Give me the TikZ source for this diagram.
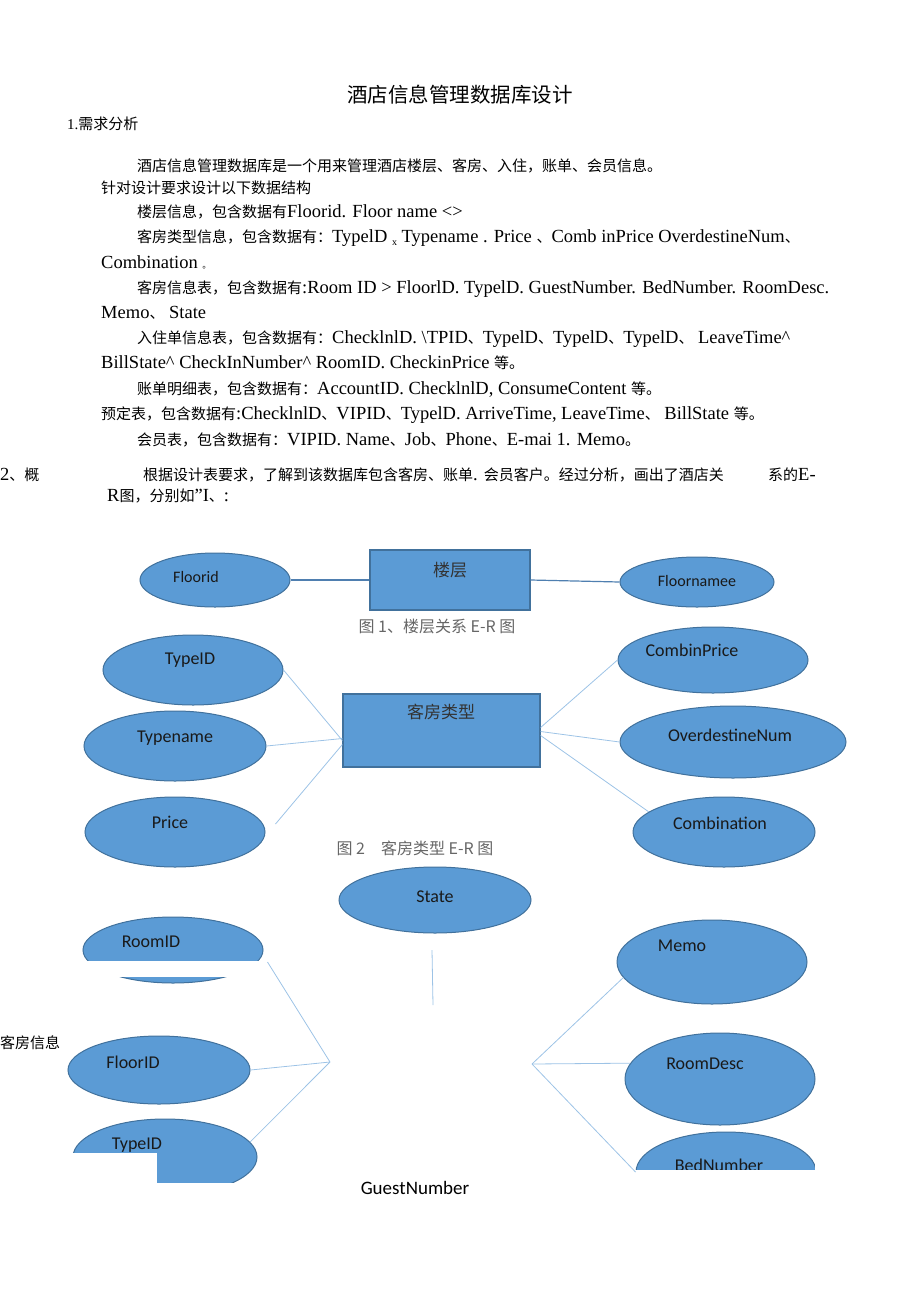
\documentclass[tikz,border=0pt]{standalone}
\usepackage{fontspec}
\setmainfont{Liberation Serif}
\newfontfamily\cjk{Noto Sans CJK SC}
\newfontfamily\calibri{Carlito}
\usetikzlibrary{shapes.geometric}
\tikzset{>=stealth}
\definecolor{erfill}{HTML}{5B9BD5}
\definecolor{erline}{HTML}{41719C}
\definecolor{erlink}{HTML}{9DC3E6}
\definecolor{erdark}{HTML}{4F7FB0}
\newcommand{\zh}[1]{{\cjk\fontsize{15}{18}\selectfont #1}}

\tikzset{
  attr/.style={ellipse, draw=erline, fill=erfill, line width=1pt, inner sep=0pt},
  entity/.style={rectangle, draw=erline, fill=erfill, line width=1.2pt, inner sep=0pt},
  attrtext/.style={font=\calibri\fontsize{18}{18}\selectfont, text=black!90, inner sep=0pt},
  entitytext/.style={font=\cjk\fontsize{17}{17}\selectfont, text=black!80, inner sep=0pt},
  figcaption/.style={font=\cjk\fontsize{16}{16}\selectfont, text=black!60, inner sep=0pt},
  bodyline/.style={anchor=base west, inner sep=0pt, font=\fontsize{18.5}{20}\selectfont},
  link/.style={draw=erlink, line width=0.8pt},
  darklink/.style={draw=erdark, line width=1.2pt}
}

\begin{document}
\begin{tikzpicture}[x=1pt, y=-1pt]
\useasboundingbox (0,0) rectangle (920,1301);

% title and requirement text
\node[anchor=base, inner sep=0pt, font=\cjk\fontsize{20.5}{20.5}\selectfont] (title) at (460,102) {酒店信息管理数据库设计};
\node[bodyline, font=\fontsize{15}{18}\selectfont] (sec1) at (67,129) {1.\zh{需求分析}};
\node[bodyline] (req1) at (137,171) {\zh{酒店信息管理数据库是一个用来管理酒店楼层、客房、入住，账单、会员信息。}};
\node[bodyline] (req2) at (101,193) {\zh{针对设计要求设计以下数据结构}};
\node[bodyline] (req3) at (137,217) {\zh{楼层信息，包含数据有}Floorid. Floor name <>};
\node[bodyline] (req4) at (137,242) {\zh{客房类型信息，包含数据有：}TypelD \raisebox{-3pt}{\fontsize{10}{10}\selectfont x} Typename . Price \zh{、}Comb inPrice OverdestineNum\zh{、}};
\node[bodyline] (req5) at (101,268) {Combination \zh{\fontsize{9}{9}\selectfont 。}};
\node[bodyline] (req6) at (137,293) {\zh{客房信息表，包含数据有}:Room ID > FloorlD. TypelD. GuestNumber. BedNumber. RoomDesc.};
\node[bodyline] (req7) at (101,318) {Memo\zh{、} State};
\node[bodyline] (req8) at (137,343) {\zh{入住单信息表，包含数据有：}ChecklnlD. \textbackslash TPID\zh{、}TypelD\zh{、}TypelD\zh{、}TypelD\zh{、} LeaveTime\textasciicircum};
\node[bodyline] (req9) at (101,368) {BillState\textasciicircum{} CheckInNumber\textasciicircum{} RoomID. CheckinPrice \zh{等。}};
\node[bodyline] (req10) at (137,394) {\zh{账单明细表，包含数据有：}AccountID. ChecklnlD, ConsumeContent \zh{等。}};
\node[bodyline] (req11) at (101,419) {\zh{预定表，包含数据有}:ChecklnlD\zh{、}VIPID\zh{、}TypelD. ArriveTime, LeaveTime\zh{、} BillState \zh{等。}};
\node[bodyline] (req12) at (137,445) {\zh{会员表，包含数据有：}VIPID. Name\zh{、}Job\zh{、}Phone\zh{、}E-mai 1. Memo\zh{。}};
\node[bodyline] (sec2) at (0,480) {2\zh{、概}};
\node[bodyline] (intro1) at (143,480) {\zh{根据设计表要求，了解到该数据库包含客房、账单}. \zh{会员客户。经过分析，画出了酒店关}};
\node[bodyline] (intro2) at (768,480) {\zh{系的}E-};
\node[bodyline] (intro3) at (107,501) {R\zh{图，分别如}"I\zh{、}:};

% figure 1: floor
\node[entity, minimum width=160, minimum height=60] (floor) at (450,580) {};
\node[entitytext] (floor-t) at (450,570) {楼层};
\node[attr, minimum width=150, minimum height=54] (floorid) at (215,580) {};
\node[attrtext, font=\calibri\fontsize{16}{16}\selectfont] (floorid-t) at (196,577) {Floorid};
\node[attr, minimum width=154, minimum height=50] (floorname) at (697,582) {};
\node[attrtext, font=\calibri\fontsize{16}{16}\selectfont] (floorname-t) at (697,581) {Floornamee};
\draw[darklink] (floorid.east) -- (floor.west);
\draw[darklink] (floor.east) -- (floorname.west);
\node[figcaption] (cap1) at (437,626) {图 1、楼层关系 E-R 图};

% figure 2: room type
\node[entity, minimum width=197, minimum height=73] (roomtype) at (441.5,730.5) {};
\node[entitytext] (roomtype-t) at (441,712) {客房类型};
\node[attr, minimum width=180, minimum height=70] (typeid) at (193,670) {};
\node[attrtext] (typeid-t) at (190,660) {TypeID};
\node[attr, minimum width=182, minimum height=70] (typename) at (175,746) {};
\node[attrtext] (typename-t) at (175,738) {Typename};
\node[attr, minimum width=180, minimum height=70] (price) at (175,832) {};
\node[attrtext] (price-t) at (170,822) {Price};
\node[attr, minimum width=190, minimum height=66] (combinprice) at (713,660) {};
\node[attrtext] (combinprice-t) at (692,650) {CombinPrice};
\node[attr, minimum width=226, minimum height=72] (overdestine) at (733,742) {};
\node[attrtext] (overdestine-t) at (730,735) {OverdestineNum};
\node[attr, minimum width=182, minimum height=70] (combination) at (724,832) {};
\node[attrtext] (combination-t) at (720,823) {Combination};
\draw[link] (typeid.east) -- ([yshift=-10pt]roomtype.west);
\draw[link] (typename.east) -- ([yshift=-8pt]roomtype.west);
\draw[link] ([xshift=10pt,yshift=8pt]price.east) -- ([yshift=-14pt]roomtype.west);
\draw[link] (combinprice.west) -- ([yshift=3pt]roomtype.east);
\draw[link] (overdestine.west) -- ([yshift=-1pt]roomtype.east);
\draw[link] (combination.165) -- ([yshift=-5pt]roomtype.east);
\node[figcaption] (cap2) at (415,848) {图 2\quad 客房类型 E-R 图};

% figure 3: room information (entity box lost in the scan)
\coordinate (roomL) at (330,1062);
\coordinate (roomR) at (532,1064);
\coordinate (roomT) at (433,1005);
\coordinate (stateB) at (432,950);
\node[attr, minimum width=192, minimum height=66] (state) at (435,900) {};
\node[attrtext] (state-t) at (435,897) {State};
\node[attr, minimum width=180, minimum height=66] (roomid) at (173,950) {};
\node[attrtext] (roomid-t) at (151,942) {RoomID};
\node[attr, minimum width=182, minimum height=68] (floorid3) at (159,1070) {};
\node[attrtext] (floorid3-t) at (133,1062) {FloorID};
\node[attr, minimum width=184, minimum height=76] (typeid3) at (165,1157) {};
\node[attrtext] (typeid3-t) at (137,1145) {TypeID};
\node[attr, minimum width=190, minimum height=84] (memo) at (712,962) {};
\node[attrtext] (memo-t) at (682,946) {Memo};
\node[attr, minimum width=190, minimum height=92] (roomdesc) at (720,1079) {};
\node[attrtext] (roomdesc-t) at (705,1064) {RoomDesc};
\node[attr, minimum width=180, minimum height=80] (bednumber) at (726,1172) {};
\node[attrtext] (bednumber-t) at (719,1165) {BedNumber};
% scan gaps
\fill[white] (66,961) rectangle (266,977);
\fill[white] (60,1183) rectangle (266,1210);
\fill[white] (60,1153) rectangle (157,1210);
\fill[white] (625,1170) rectangle (835,1220);
\fill[white] (815,1120) rectangle (835,1220);
\draw[link] (stateB) -- (roomT);
\draw[link] ([xshift=4pt,yshift=-12pt]roomid.east) -- (roomL);
\draw[link] (floorid3.east) -- (roomL);
\draw[link] (typeid3.10) -- (roomL);
\draw[link] (memo.190) -- (roomR);
\draw[link] (roomdesc.170) -- (roomR);
\draw[link] (bednumber.west) -- (roomR);
\node[inner sep=0pt, font=\cjk\fontsize{15}{15}\selectfont] (roominfo) at (30,1043) {客房信息};
\node[inner sep=0pt, font=\calibri\fontsize{19}{19}\selectfont] (guestnumber) at (415,1188) {GuestNumber};
\end{tikzpicture}
\end{document}
